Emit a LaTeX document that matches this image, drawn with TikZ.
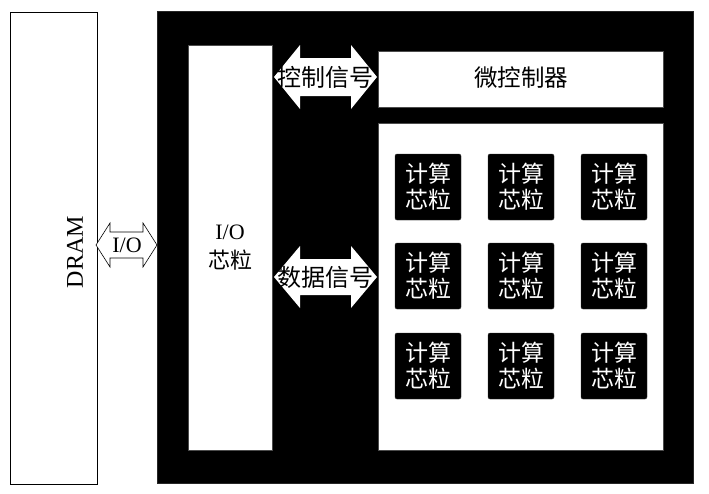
\documentclass[tikz,border=0pt]{standalone}
\usepackage{fontspec}
\setmainfont{Liberation Serif}
\newfontfamily\cjk{Noto Sans CJK SC}
\usetikzlibrary{positioning}

\tikzset{
  chip/.style={fill=black, draw=black!80, rounded corners=2pt, minimum width=66pt,
    minimum height=66pt, text=white, align=center, inner sep=0pt,
    font=\cjk\fontsize{23}{26}\selectfont},
  label/.style={inner sep=0pt, align=center},
}

\begin{document}
\begin{tikzpicture}[x=1pt, y=-1pt]
        \useasboundingbox (0,0) rectangle (709,493);
        % DRAM
        \draw[fill=white, line width=0.6pt] (10,12) rectangle (97,484);
        \node[label, rotate=90, font=\fontsize{24}{28}\selectfont] (dram) at (75,252) {DRAM};
        % package
        \draw[fill=black, draw=black!85] (157,11) rectangle (693,483);
        \draw[fill=white, draw=black!70] (188,45) rectangle (272,450);
        \draw[fill=white, draw=black!70] (378,51) rectangle (663,107);
        \draw[fill=white, draw=black!70] (378,123) rectangle (663,450);
        \node[label, font=\fontsize{22}{29}\selectfont] (iochip) at (230,248) {I/O\\{\cjk 芯粒}};
        \node[label, font=\cjk\fontsize{23.5}{26}\selectfont] (mcu) at (521,78) {微控制器};
        % compute chips
        \foreach \cx [count=\i] in {428,521,614}
          \foreach \cy [count=\j] in {187,276,366}
            \node[chip] (chip\i\j) at (\cx,\cy) {计算\\芯粒};
        % I/O arrow
        \draw[fill=white, line width=0.6pt] (96,245) -- (110,223) -- (110,232) -- (143,232) -- (143,223)
          -- (157,245) -- (143,267) -- (143,258) -- (110,258) -- (110,267) -- cycle;
        \node[label, font=\fontsize{22}{26}\selectfont] (io) at (127,245) {I/O};
        % control and data arrows
        \fill[white] (274,77) -- (300,45) -- (300,58) -- (351,58) -- (351,45) -- (377,77)
          -- (351,109) -- (351,96) -- (300,96) -- (300,109) -- cycle;
        \node[label, font=\cjk\fontsize{24}{26}\selectfont] (ctrl) at (325.5,77) {控制信号};
        \fill[white] (274,277) -- (300,246) -- (300,259) -- (351,259) -- (351,246) -- (377,277)
          -- (351,308) -- (351,295) -- (300,295) -- (300,308) -- cycle;
        \node[label, font=\cjk\fontsize{24}{26}\selectfont] (data) at (325.5,277) {数据信号};
    \end{tikzpicture}
\end{document}
